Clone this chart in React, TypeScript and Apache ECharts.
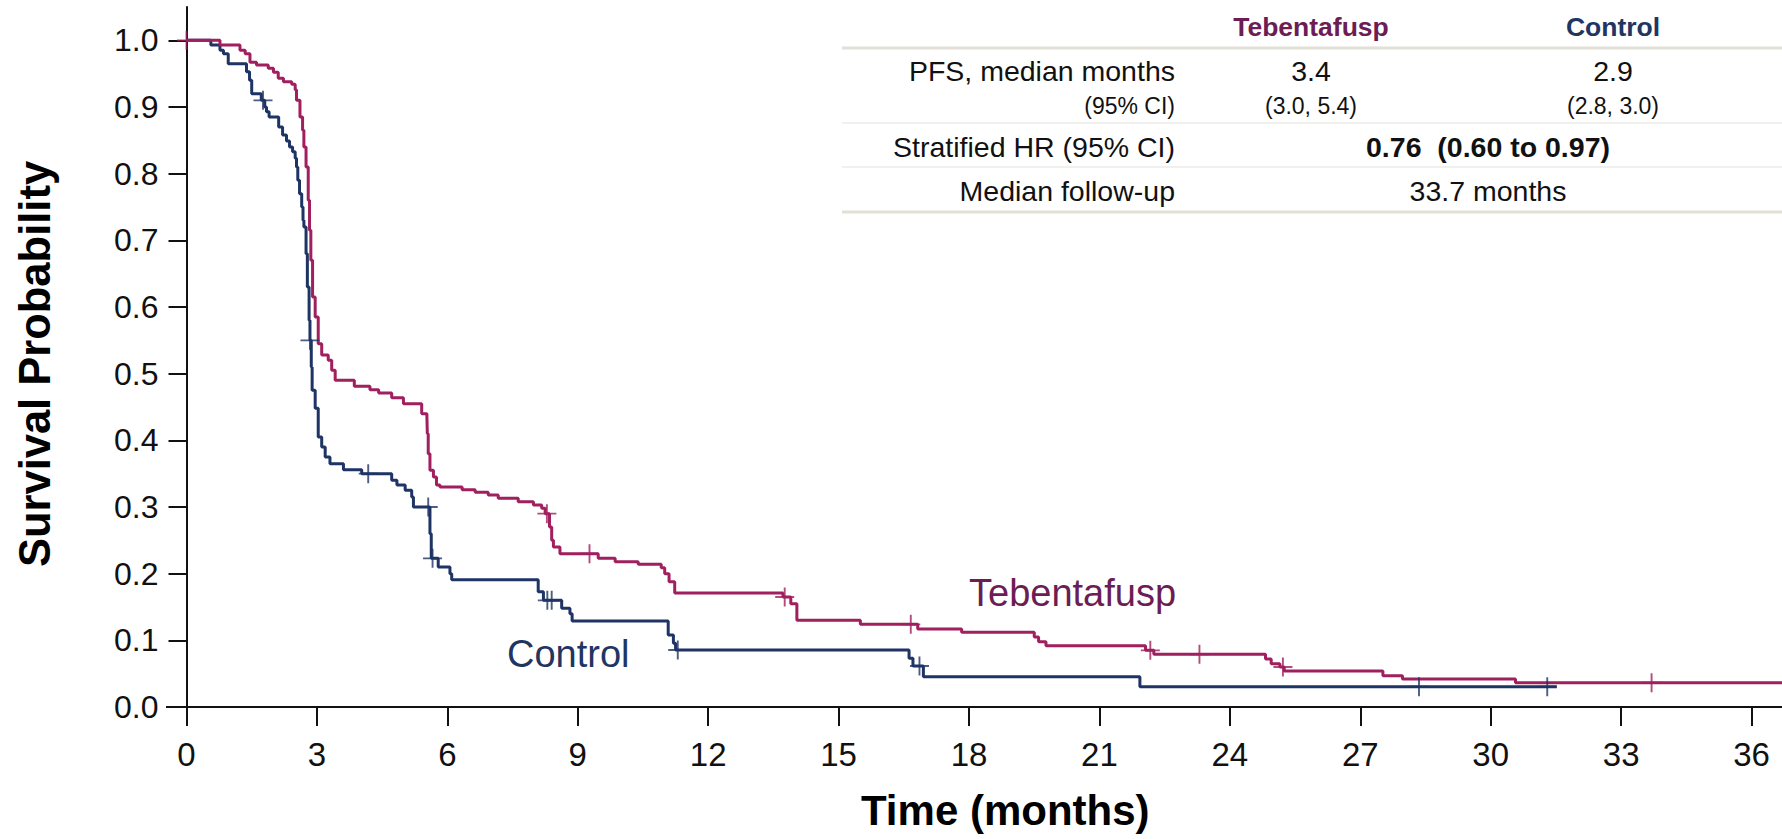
import React, { useEffect, useRef } from "react";
import * as echarts from "echarts";

// ---------- data ----------
const xTicks = [0, 3, 6, 9, 12, 15, 18, 21, 24, 27, 30, 33, 36];
const yTicks = [0, 0.1, 0.2, 0.3, 0.4, 0.5, 0.6, 0.7, 0.8, 0.9, 1.0];

// Tebentafusp KM step points: time (months) and survival from that time on
const tebTimes = [
  0, 0.77, 1.23, 1.35, 1.46, 1.61, 1.88, 2.0, 2.11, 2.23, 2.42, 2.5, 2.53, 2.61, 2.67, 2.7, 2.75, 2.8,
  2.83, 2.86, 2.9, 2.96, 3.03, 3.11, 3.26, 3.34, 3.42, 3.86, 4.22, 4.42, 4.72, 4.99, 5.41, 5.53, 5.54,
  5.56, 5.6, 5.68, 5.75, 5.83, 6.34, 6.64, 6.94, 7.17, 7.63, 7.98, 8.17, 8.25, 8.35, 8.4, 8.44, 8.59,
  9.47, 9.86, 10.39, 10.92, 11.0, 11.1, 11.23, 13.72, 13.9, 14.04, 15.5, 16.82, 17.83, 19.5, 19.6,
  19.77, 22.06, 22.25, 24.82, 24.95, 25.15, 25.25, 27.52, 27.97, 30.57, 36.7,
];
const tebSurv = [
  1.0, 0.993, 0.985, 0.98, 0.967, 0.963, 0.958, 0.952, 0.943, 0.938, 0.934, 0.926, 0.91, 0.885, 0.865,
  0.84, 0.81, 0.76, 0.715, 0.67, 0.615, 0.585, 0.545, 0.528, 0.52, 0.505, 0.49, 0.481, 0.476, 0.471,
  0.464, 0.455, 0.44, 0.435, 0.41, 0.38, 0.355, 0.345, 0.333, 0.33, 0.326, 0.322, 0.318, 0.313, 0.308,
  0.303, 0.298, 0.29, 0.27, 0.25, 0.24, 0.23, 0.223, 0.218, 0.214, 0.209, 0.2, 0.188, 0.171, 0.165,
  0.155, 0.13, 0.124, 0.117, 0.112, 0.105, 0.098, 0.092, 0.085, 0.079, 0.072, 0.065, 0.06, 0.054,
  0.047, 0.042, 0.0365, 0.0365,
];
const tebCensorTimes = [0, 8.29, 9.27, 13.76, 16.66, 22.17, 23.3, 25.22, 33.7];

// Control KM step points
const ctrlTimes = [
  0, 0.56, 0.77, 0.85, 0.96, 1.38, 1.45, 1.5, 1.72, 1.8, 1.84, 1.9, 2.12, 2.21, 2.3, 2.37, 2.44, 2.5,
  2.53, 2.56, 2.6, 2.65, 2.68, 2.7, 2.75, 2.78, 2.82, 2.84, 2.87, 2.89, 2.96, 3.03, 3.11, 3.19, 3.3,
  3.61, 4.03, 4.72, 4.84, 5.03, 5.18, 5.22, 5.6, 5.63, 5.79, 6.06, 6.1, 8.09, 8.21, 8.63, 8.82, 8.87,
  11.08, 11.2, 11.25, 16.62, 16.71, 16.95, 21.93, 31.52,
];
const ctrlSurv = [
  1.0, 0.993, 0.985, 0.98, 0.965, 0.953, 0.94, 0.92, 0.91, 0.9, 0.893, 0.885, 0.87, 0.858, 0.849, 0.84,
  0.833, 0.823, 0.81, 0.79, 0.77, 0.75, 0.73, 0.72, 0.68, 0.63, 0.58, 0.55, 0.51, 0.475, 0.448, 0.405,
  0.39, 0.375, 0.365, 0.356, 0.35, 0.34, 0.333, 0.325, 0.315, 0.3, 0.26, 0.223, 0.21, 0.2, 0.191, 0.173,
  0.16, 0.148, 0.14, 0.129, 0.108, 0.0955, 0.0855, 0.073, 0.0615, 0.0455, 0.0305, 0.0305,
];
const ctrlCensorTimes = [1.76, 2.84, 4.18, 5.56, 5.66, 8.3, 8.4, 11.3, 16.86, 28.35, 31.3];

// Summary table
const tableHeaders = ["Tebentafusp", "Control"];
const rowLabels = ["PFS, median months", "(95% CI)", "Stratified HR (95% CI)", "Median follow-up"];
const tebMedian = ["3.4", "(3.0, 5.4)"];
const ctrlMedian = ["2.9", "(2.8, 3.0)"];
const hazardRatio = "0.76  (0.60 to 0.97)";
const medianFollowUp = "33.7 months";

// ---------- style ----------
const FONT = '"Liberation Sans", Arial, Helvetica, sans-serif';
const TEB = "#a01f5e";
const TEB_TEXT = "#6b1d54";
const CTRL = "#1e3464";
const CTRL_TEXT = "#213563";
const AX = "#111111";
const PLUS = "path://M-0.1,-1h0.2v0.9h0.9v0.2h-0.9v0.9h-0.2v-0.9h-0.9v-0.2h0.9z";

const GRID_LEFT = 186.5;
const GRID_TOP = 7;
const GRID_BOTTOM = 132;
const W = 1782;
const H = 839;

function survAt(times: number[], surv: number[], t: number) {
  let s = surv[0];
  for (let i = 0; i < times.length; i++) {
    if (times[i] <= t) s = surv[i];
  }
  return s;
}

function txt(text: string, x: number, y: number, o: any = {}) {
  const align = o.align || "left";
  return {
    type: "text",
    x,
    y,
    silent: true,
    style: {
      text,
      fill: o.color || "#111",
      fontSize: o.size || 28.5,
      fontWeight: o.weight || "normal",
      fontFamily: FONT,
      align,
      textAlign: align,
      verticalAlign: "middle",
      textVerticalAlign: "middle",
    },
  };
}

function hline(x1: number, x2: number, y: number, color: string, w: number) {
  return {
    type: "line",
    silent: true,
    shape: { x1, y1: y, x2, y2: y },
    style: { stroke: color, lineWidth: w },
  };
}

export default function App() {
  const ref = useRef<HTMLDivElement>(null);

  useEffect(() => {
    if (!ref.current) return;
    const chart = echarts.init(ref.current, null, { renderer: "svg" });

    const axisBottomY = H - GRID_BOTTOM;
    const LABEL_RIGHT = 1175;
    const COL1 = 1311;
    const COL2 = 1613;
    const MID = 1488;

    const option: any = {
      animation: false,
      textStyle: { fontFamily: FONT },
      grid: {
        left: GRID_LEFT,
        right: 0,
        top: GRID_TOP,
        bottom: GRID_BOTTOM,
        containLabel: false,
        outerBoundsMode: "none",
      },
      xAxis: {
        type: "value",
        min: 0,
        max: 36.7,
        axisLine: { show: true, onZero: false, lineStyle: { color: AX, width: 2 } },
        axisTick: { show: true, length: 19, customValues: xTicks, lineStyle: { color: AX, width: 2 } },
        axisLabel: {
          customValues: xTicks,
          fontSize: 33,
          color: AX,
          margin: 31,
          fontFamily: FONT,
          formatter: (v: number) => String(v),
        },
        splitLine: { show: false },
        name: "Time (months)",
        nameLocation: "middle",
        nameGap: 82,
        nameTextStyle: {
          fontSize: 42,
          fontWeight: "bold",
          color: "#000",
          fontFamily: FONT,
          padding: [0, 0, 0, 42],
        },
      },
      yAxis: {
        type: "value",
        min: 0,
        max: 1.05,
        axisLine: { show: true, onZero: false, lineStyle: { color: AX, width: 2 } },
        axisTick: { show: true, length: 18, customValues: yTicks, lineStyle: { color: AX, width: 2 } },
        axisLabel: {
          customValues: yTicks,
          fontSize: 32,
          color: AX,
          margin: 28,
          fontFamily: FONT,
          formatter: (v: number) => v.toFixed(1),
        },
        splitLine: { show: false },
        name: "Survival Probability",
        nameLocation: "middle",
        nameRotate: 90,
        nameGap: 130,
        nameTextStyle: {
          fontSize: 43.5,
          fontWeight: "bold",
          color: "#000",
          fontFamily: FONT,
          padding: [0, 14, 0, 0],
        },
      },
      series: [
        {
          name: "Tebentafusp",
          type: "line",
          step: "end",
          symbol: "none",
          showSymbol: false,
          data: tebTimes.map((t, i) => [t, tebSurv[i]]),
          lineStyle: { color: TEB, width: 3 },
          itemStyle: { color: TEB },
          z: 3,
        },
        {
          name: "Control",
          type: "line",
          step: "end",
          symbol: "none",
          showSymbol: false,
          data: ctrlTimes.map((t, i) => [t, ctrlSurv[i]]),
          lineStyle: { color: CTRL, width: 3 },
          itemStyle: { color: CTRL },
          z: 2,
        },
        {
          name: "Tebentafusp censored",
          type: "scatter",
          symbol: PLUS,
          symbolSize: 19,
          data: tebCensorTimes.map((t) => [t, survAt(tebTimes, tebSurv, t)]),
          itemStyle: { color: TEB },
          z: 5,
        },
        {
          name: "Control censored",
          type: "scatter",
          symbol: PLUS,
          symbolSize: 19,
          data: ctrlCensorTimes.map((t) => [t, survAt(ctrlTimes, ctrlSurv, t)]),
          itemStyle: { color: CTRL },
          z: 4,
        },
      ],
      graphic: [
        // x-axis line stub to the left of the y-axis
        hline(166, GRID_LEFT + 1, axisBottomY, AX, 2),
        // curve annotations
        txt("Tebentafusp", 969, 593, { size: 38, color: TEB_TEXT }),
        txt("Control", 507, 654, { size: 38, color: CTRL_TEXT }),
        // table
        txt(tableHeaders[0], COL1, 27, { size: 26.5, weight: "bold", color: TEB_TEXT, align: "center" }),
        txt(tableHeaders[1], COL2, 27, { size: 26.5, weight: "bold", color: CTRL_TEXT, align: "center" }),
        hline(842, W, 48, "#e2dfd6", 3),
        txt(rowLabels[0], LABEL_RIGHT, 71, { align: "right" }),
        txt(tebMedian[0], COL1, 71, { align: "center" }),
        txt(ctrlMedian[0], COL2, 71, { align: "center" }),
        txt(rowLabels[1], LABEL_RIGHT, 106, { size: 23, align: "right" }),
        txt(tebMedian[1], COL1, 106, { size: 23, align: "center" }),
        txt(ctrlMedian[1], COL2, 106, { size: 23, align: "center" }),
        hline(842, W, 123, "#f1f0ec", 2),
        txt(rowLabels[2], LABEL_RIGHT, 147, { align: "right" }),
        txt(hazardRatio, MID, 147, { weight: "bold", align: "center" }),
        hline(842, W, 167, "#f1f0ec", 2),
        txt(rowLabels[3], LABEL_RIGHT, 191, { align: "right" }),
        txt(medianFollowUp, MID, 191, { align: "center" }),
        hline(842, W, 212, "#e2dfd6", 3),
      ],
    };

    chart.setOption(option);
    return () => chart.dispose();
  }, []);

  return (
    <div
      ref={ref}
      style={{ position: "fixed", left: 0, top: 0, width: W, height: H, background: "#fff" }}
    />
  );
}
